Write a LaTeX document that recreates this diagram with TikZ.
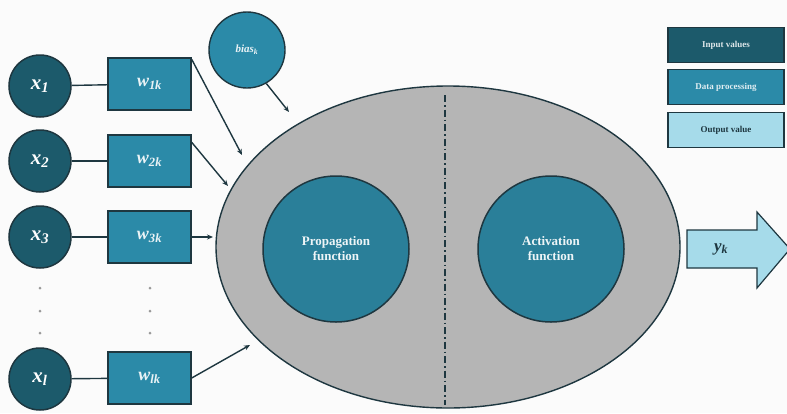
\documentclass[tikz,border=0pt]{standalone}
\usepackage{fontspec}
\setmainfont{Liberation Serif}
\usetikzlibrary{arrows.meta,shapes.geometric}
\definecolor{inputc}{HTML}{1C5A6B}
\definecolor{procc}{HTML}{2B8AA8}
\definecolor{funcc}{HTML}{2A7F99}
\definecolor{outc}{HTML}{A6DBEA}
\definecolor{edgec}{HTML}{1E3740}
\definecolor{cellc}{HTML}{B5B5B5}
\tikzset{
  inputnode/.style={circle, draw=edgec, line width=1.5pt, fill=inputc, minimum size=62pt, inner sep=0pt, text=white, font=\fontsize{21}{23}\selectfont\bfseries\itshape},
  weightbox/.style={rectangle, draw=edgec, line width=1.4pt, fill=procc, minimum width=83pt, minimum height=52pt, inner sep=0pt, text=white!90!procc, font=\fontsize{18}{20}\selectfont\bfseries\itshape},
  funcnode/.style={circle, draw=edgec, line width=1.5pt, fill=funcc, minimum size=146pt, inner sep=0pt, text=white!92!funcc, align=center, font=\fontsize{13}{15}\selectfont\bfseries},
  legendbox/.style={rectangle, draw=edgec, line width=1.2pt, minimum width=116pt, minimum height=35pt, inner sep=0pt, font=\fontsize{9}{10}\selectfont\bfseries},
  link/.style={draw=edgec, line width=1.4pt},
  feed/.style={draw=edgec, line width=1.4pt, -{Stealth[length=6pt,width=5pt]}},
  dotmark/.style={circle, fill=gray!80, inner sep=0pt, minimum size=3pt}
}
\begin{document}
\begin{tikzpicture}[x=1pt, y=-1pt]
  \useasboundingbox (0,0) rectangle (787,413);
  \fill[white!97!gray] (0,0) rectangle (787,413);

  % neuron body
  \node[ellipse, draw=edgec, line width=1.4pt, fill=cellc, minimum width=464pt, minimum height=322pt, inner sep=0pt] (cell) at (448,247) {};
  \draw[edgec, line width=1.3pt, dash pattern=on 7pt off 3pt on 1.5pt off 3pt] (445,95) coordinate (dtop) -- (445,405) coordinate (dbot);

  % processing stages
  \node[funcnode] (prop) at (336,249) {Propagation\\function};
  \node[funcnode] (act) at (551,249) {Activation\\function};

  % inputs and weights
  \node[inputnode] (x1) at (40,86) {x\textsubscript{1}};
  \node[inputnode] (x2) at (40,161) {x\textsubscript{2}};
  \node[inputnode] (x3) at (40,237) {x\textsubscript{3}};
  \node[inputnode] (xl) at (40,379) {x\textsubscript{l}};

  \node[weightbox] (w1) at (149.5,84) {w\textsubscript{1\kern-0.5pt k}};
  \node[weightbox] (w2) at (149.5,161) {w\textsubscript{2k}};
  \node[weightbox] (w3) at (149.5,237) {w\textsubscript{3k}};
  \node[weightbox] (wl) at (149.5,378) {w\textsubscript{lk}};

  \node[circle, draw=edgec, line width=1.4pt, fill=procc, minimum size=76pt, inner sep=0pt, text=white!90!procc, font=\fontsize{11}{13}\selectfont\bfseries\itshape] (bias) at (247,50) {bias\textsubscript{k}};

  % ellipsis dots
  \foreach \yy in {288,311,333} {
    \node[dotmark] at (40,\yy) {};
    \node[dotmark] at (150,\yy) {};
  }

  \draw[link] (x1) -- (w1);
  \draw[link] (x2) -- (w2);
  \draw[link] (x3) -- (w3);
  \draw[link] (xl) -- (wl);

  \coordinate (in1) at (242,155);
  \coordinate (in2) at (228,186);
  \coordinate (in3) at (213,237);
  \coordinate (inl) at (250,345);
  \coordinate (inb) at (289,112);
  \draw[feed] (w1.north east) ++(0,2) -- (in1);
  \draw[feed] (w2.north east) ++(0,8) -- (in2);
  \draw[feed] (w3.east) -- (in3);
  \draw[feed] (wl.east) -- (inl);
  \draw[feed] (bias.300) -- (inb);

  % output arrow
  \draw[draw=edgec, line width=1.2pt, fill=outc]
    (687,230) -- (757,230) -- (757,212) -- (790,249) -- (757,288) -- (757,268) -- (687,268) -- cycle;
  \node[text=edgec, font=\fontsize{17}{19}\selectfont\bfseries\itshape] (yk) at (721,249) {y\textsubscript{k}};

  % legend
  \node[legendbox, fill=inputc, text=white!85!inputc] (lin) at (726,45) {Input values};
  \node[legendbox, fill=procc, text=white!85!procc] (lproc) at (726,87) {Data processing};
  \node[legendbox, fill=outc, text=edgec] (lout) at (726,130) {Output value};
\end{tikzpicture}
\end{document}
